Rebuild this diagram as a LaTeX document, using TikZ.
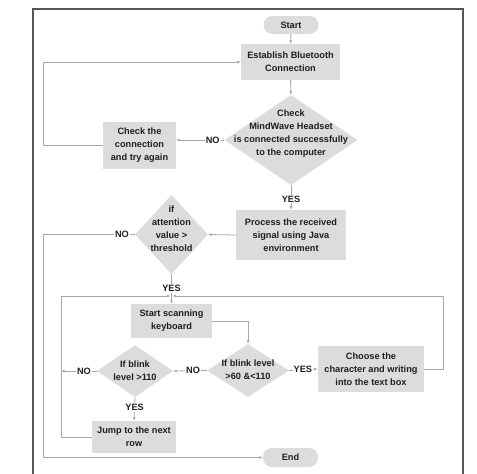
\documentclass[tikz,border=0pt]{standalone}
\usepackage{fontspec}
\setmainfont{Liberation Sans}
\usetikzlibrary{shapes.geometric,arrows.meta,calc}
\definecolor{boxfill}{HTML}{DCDCDC}
\definecolor{linegray}{HTML}{A8A8A8}
\definecolor{framegray}{HTML}{555555}
\definecolor{txtcol}{HTML}{1E1E1E}
\tikzset{
  base/.style={font=\fontsize{9.2}{13}\selectfont\bfseries, text=txtcol, align=center, inner sep=0pt},
  procbox/.style={base, rectangle, fill=boxfill},
  termbox/.style={base, rectangle, fill=boxfill, rounded corners=9pt},
  decshape/.style={diamond, fill=boxfill, inner sep=0pt},
  lbl/.style={base, fill=white, inner sep=1.2pt},
  conn/.style={draw=linegray, line width=0.8pt},
  arr/.style={conn, -{Latex[length=3.5pt,width=3pt]}},
}
\begin{document}
\begin{tikzpicture}[x=1pt,y=-1pt]
\useasboundingbox (0,0) rectangle (477,474);
\draw[framegray, line width=1.2pt] (33,476) -- (33,9) -- (463,9) -- (463,476);

% nodes
\node[termbox, minimum width=55pt, minimum height=18pt] (start) at (291,25) {Start};
\node[procbox, minimum width=99pt, minimum height=36pt] (est) at (290.5,62) {Establish Bluetooth\\Connection};
\node[decshape, minimum width=133pt, minimum height=90pt] (d1) at (291,140) {};
\node[base] (d1t) at (291,134) {Check\\MindWave Headset\\is connected successfully\\to the computer};
\node[procbox, minimum width=73pt, minimum height=47pt] (chk) at (139.5,145.5) {Check the\\connection\\and try again};
\node[procbox, minimum width=110pt, minimum height=50pt] (proc) at (291,235) {Process the received\\signal using Java\\environment};
\node[decshape, minimum width=73pt, minimum height=79pt] (d2) at (171.5,234.5) {};
\node[base] (d2t) at (171.5,228.5) {if\\attention\\value >\\threshold};
\node[procbox, minimum width=81pt, minimum height=34pt] (scan) at (171.5,321) {Start scanning\\keyboard};
\node[decshape, minimum width=82pt, minimum height=53pt] (d3) at (248,370.5) {};
\node[base] (d3t) at (248,370) {If blink level\\>60 \&<110};
\node[procbox, minimum width=106pt, minimum height=46pt] (choose) at (371,369) {Choose the\\character and writing\\into the text box};
\node[decshape, minimum width=76pt, minimum height=52pt] (d4) at (135,371) {};
\node[base] (d4t) at (135,370.5) {If blink\\level >110};
\node[procbox, minimum width=84pt, minimum height=32pt] (jump) at (134,437) {Jump to the next\\row};
\node[termbox, minimum width=55pt, minimum height=19pt] (end) at (290.5,457.5) {End};

% helper coordinates
\coordinate (L1) at (43,0);
\coordinate (L2) at (61,0);
\coordinate (R1) at (443,0);
\coordinate (J) at (171.5,296);

% connectors
\draw[arr] (start) -- (est);
\draw[arr] (est) -- (d1);
\draw[arr] (d1.west) -- node[lbl, pos=0.24] (no1) {NO} (d1.west -| chk.east);
\draw[arr] (chk.west) -- (chk.west -| L1) |- (est.west);
\draw[arr] (d1.south) -- node[lbl, pos=0.56] (yes1) {YES} (proc.north);
\draw[arr] (proc.west) -- (d2.east);
\draw[conn] (d2.west) -- node[lbl, pos=0.14] (no2) {NO} (d2.west -| L1);
\draw[arr] (d2.west -| L1) |- (end.west);
\draw[arr] (d2.south) -- node[lbl, pos=0.47] (yes2) {YES} (scan.north);
\draw[arr] (jump.west) -- (jump.west -| L2) -- (J -| L2) -- ([xshift=-1pt]J);
\draw[arr] (choose.east) -- (choose.east -| R1) -- (J -| R1) -- ([xshift=1pt]J);
\draw[arr] (scan.east) -| (d3.north);
\draw[arr] (d3.east) -- node[lbl, pos=0.48] (yes3) {YES} (choose.west);
\draw[arr] (d3.west) -- node[lbl, pos=0.41] (no3) {NO} (d4.east);
\draw[arr] (d4.west) -- node[lbl, pos=0.36] (no4) {NO} (d4.west -| L2);
\draw[arr] (d4.south) -- node[lbl, pos=0.42] (yes4) {YES} (jump.north);
\end{tikzpicture}
\end{document}
